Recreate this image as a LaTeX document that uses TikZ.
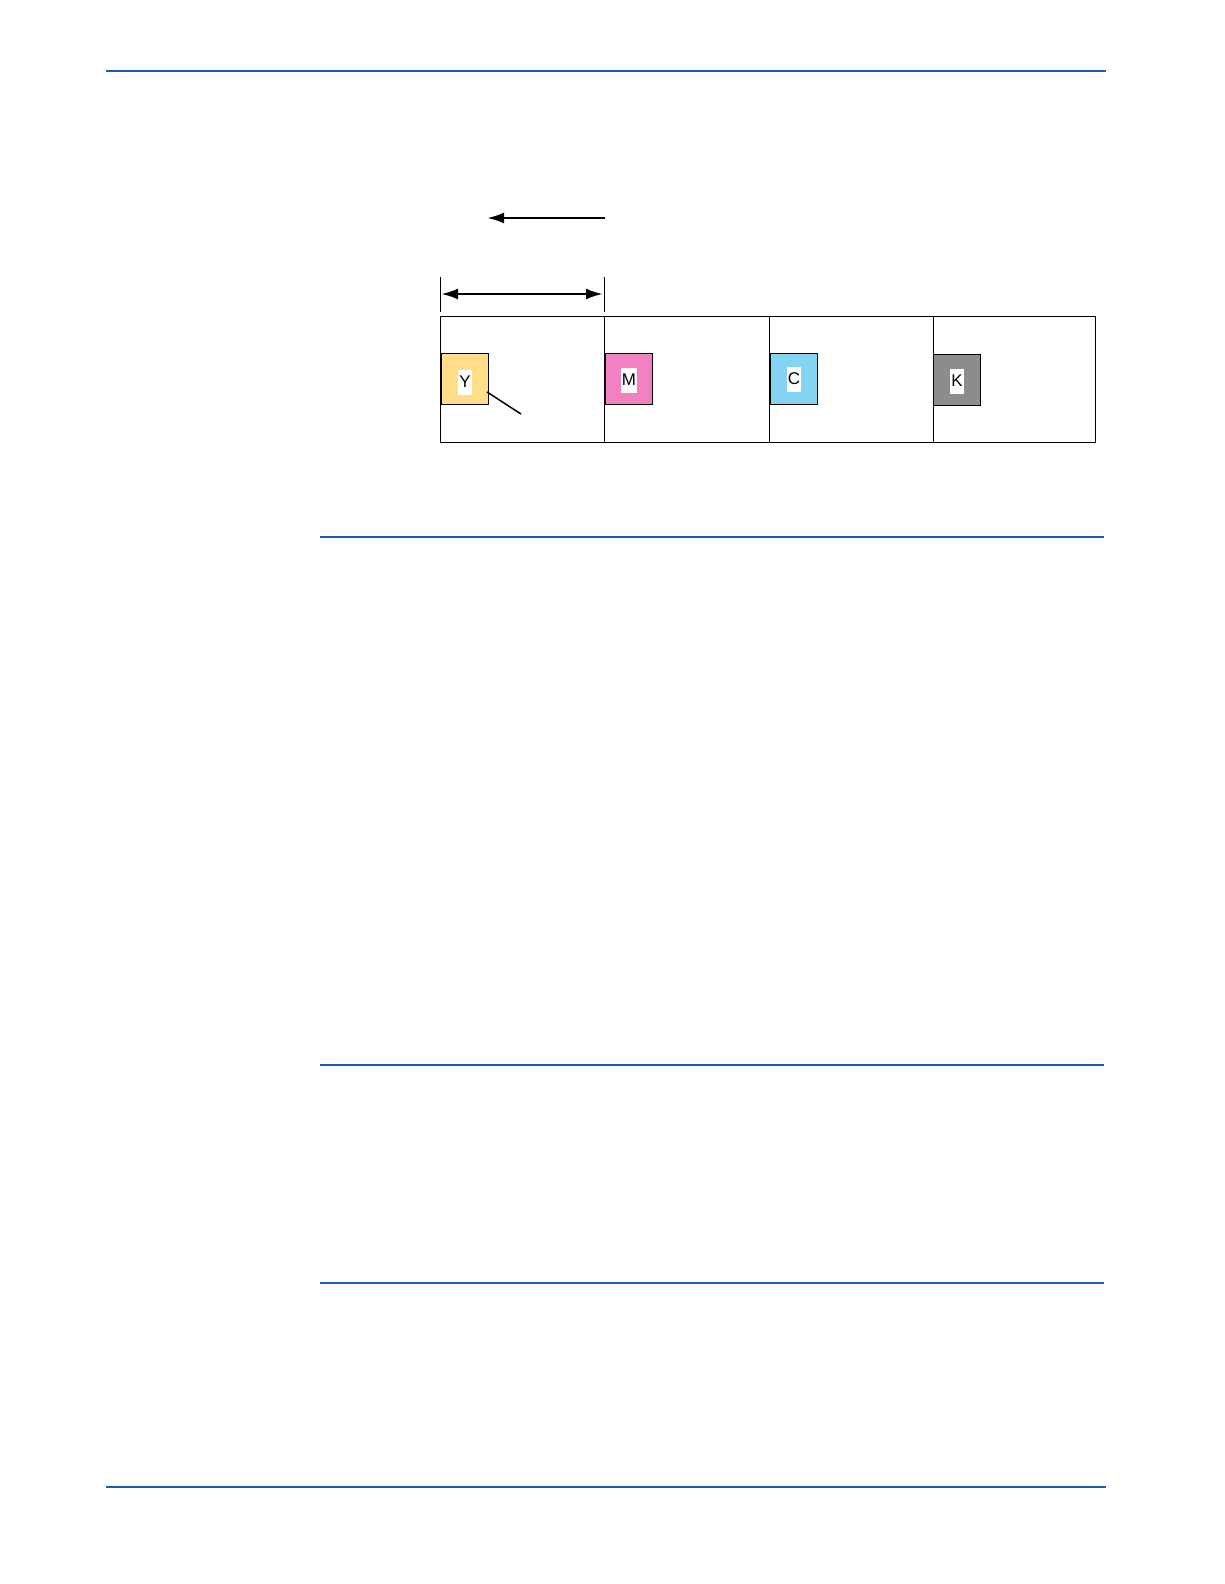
\documentclass[tikz,border=0pt]{standalone}
\usepackage{xcolor}
\usepackage{fontspec}
\setsansfont{Liberation Sans}
\usepackage{tikz}
\usetikzlibrary{arrows.meta}
\usetikzlibrary{calc}
\definecolor{rulecol}{HTML}{1B5DAE}
\definecolor{tonerY}{HTML}{FFDE85}
\definecolor{tonerM}{HTML}{F281C1}
\definecolor{tonerC}{HTML}{84D3F3}
\definecolor{tonerK}{HTML}{8C8C8C}
\tikzstyle{arrow} = [line width=2.6bp,-{Latex[length=17bp,width=11bp]}]
\tikzstyle{patch} = [draw,line width=1bp,minimum width=47bp,minimum height=51bp,inner sep=0pt,anchor=north west]
\tikzstyle{tag} = [fill=white,inner xsep=1bp,minimum height=25bp,font=\sffamily\fontsize{17}{17}\selectfont]

\begin{document}
\begin{tikzpicture}[x=1bp,y=-1bp]
\useasboundingbox (0,0) rectangle (1224,1584);
% page rules
\draw[rulecol,line width=2.2bp] (106,71) -- (1106,71);
\draw[rulecol,line width=2.2bp] (106,1487) -- (1106,1487);
\draw[rulecol,line width=1.1bp] (320,537) -- (1104,537);
\draw[rulecol,line width=1.1bp] (320,1065) -- (1104,1065);
\draw[rulecol,line width=1.1bp] (320,1283) -- (1104,1283);
% direction arrow
\coordinate (dirR) at (605,218);
\coordinate (dirL) at (487,218);
\draw[arrow] (dirR) -- (dirL);
% belt and pitch
\draw[line width=1bp] (440,316) rectangle (1095,442);
\draw[line width=1bp] (604,316) -- (604,442);
\draw[line width=1bp] (769,316) -- (769,442);
\draw[line width=1bp] (933,316) -- (933,442);
\coordinate (pitchL) at (440,277);
\coordinate (pitchR) at (604,277);
\draw[line width=1bp] (pitchL) -- ++(0,35);
\draw[line width=1bp] (pitchR) -- ++(0,35);
\draw[arrow,{Latex[length=17bp,width=11bp]}-{Latex[length=17bp,width=11bp]}] ($(pitchL)+(1,17)$) -- ($(pitchR)+(-1,17)$);
% toner patches
\node[patch,fill=tonerY] (Y) at (441,353) {};
\node[patch,fill=tonerM] (M) at (605,353) {};
\node[patch,fill=tonerC] (C) at (770,353) {};
\node[patch,fill=tonerK] (K) at (933,354) {};
\node[tag] at ($(Y.center)+(0,3)$) {Y};
\node[tag] at ($(M.center)+(0,1)$) {M};
\node[tag] at ($(C.center)+(0,0)$) {C};
\node[tag] at ($(K.center)+(0,1)$) {K};
% leader
\coordinate (lead) at (521,414);
\draw[line width=1.5bp] ($(Y.east)+(-2,13)$) -- (lead);
\end{tikzpicture}
\end{document}
